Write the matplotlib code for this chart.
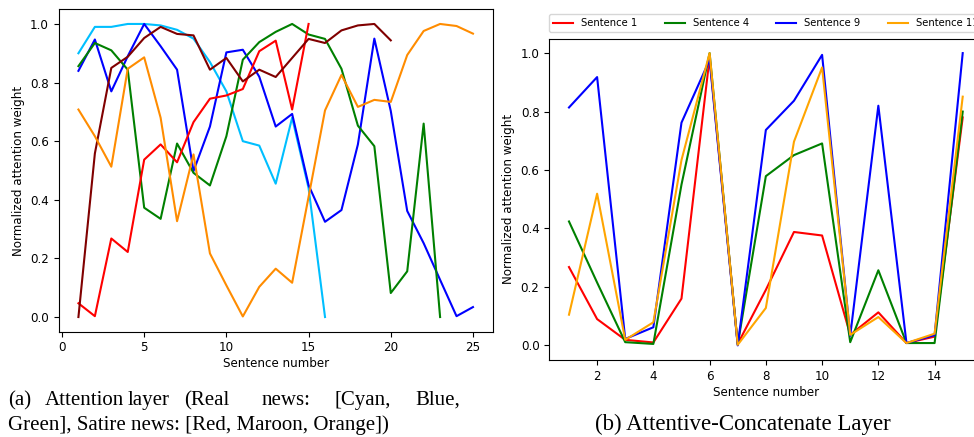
import matplotlib
matplotlib.use("Agg")
from matplotlib import pyplot as plt

# ---- (a) attention layer, one curve per article ----
cyan_y = [0.90, 0.99, 0.99, 1.0, 1.0, 0.995, 0.98, 0.95, 0.87, 0.77, 0.60, 0.585,
          0.455, 0.68, 0.44, 0.0]
blue_y = [0.84, 0.947, 0.77, 0.89, 1.0, 0.924, 0.844, 0.498, 0.65, 0.903, 0.912, 0.82,
          0.65, 0.693, 0.45, 0.325, 0.365, 0.589, 0.95, 0.703, 0.362, 0.252, 0.127,
          0.003, 0.034]
green_y = [0.856, 0.935, 0.91, 0.844, 0.373, 0.335, 0.592, 0.492, 0.449, 0.617, 0.878,
           0.938, 0.973, 1.0, 0.964, 0.949, 0.847, 0.653, 0.583, 0.082, 0.156, 0.66, 0.0]
red_y = [0.047, 0.003, 0.268, 0.222, 0.537, 0.589, 0.528, 0.665, 0.745, 0.756, 0.778,
         0.907, 0.943, 0.708, 1.0]
maroon_y = [0.0, 0.558, 0.85, 0.888, 0.952, 0.99, 0.966, 0.961, 0.844, 0.884, 0.804,
            0.844, 0.819, 0.884, 0.949, 0.935, 0.978, 0.995, 1.0, 0.944]
orange_y = [0.708, 0.617, 0.513, 0.847, 0.886, 0.68, 0.327, 0.555, 0.217, 0.108, 0.002,
            0.103, 0.165, 0.117, 0.41, 0.705, 0.826, 0.717, 0.741, 0.734, 0.894, 0.976,
            1.0, 0.993, 0.967]

# ---- (b) attentive-concatenate layer ----
sent_x = list(range(1, 16))
sent1 = [0.268, 0.09, 0.019, 0.01, 0.16, 0.985, 0.005, 0.19, 0.388, 0.376, 0.036,
         0.113, 0.008, 0.03, 0.78]
sent4 = [0.424, 0.215, 0.011, 0.005, 0.55, 1.0, 0.003, 0.579, 0.651, 0.691, 0.011,
         0.257, 0.008, 0.008, 0.80]
sent9 = [0.814, 0.918, 0.022, 0.062, 0.762, 0.977, 0.0, 0.737, 0.837, 0.994, 0.033,
         0.82, 0.008, 0.035, 1.0]
sent11 = [0.105, 0.519, 0.019, 0.079, 0.634, 1.0, 0.002, 0.128, 0.697, 0.951, 0.036,
          0.097, 0.008, 0.04, 0.851]

fig = plt.figure(figsize=(9.74, 4.37), dpi=100)
W, H = 974.0, 437.0

# left panel
ax1 = fig.add_axes([58.7 / W, 1 - 331.7 / H, 434.0 / W, 322.4 / H])
left_series = [(cyan_y, "deepskyblue"), (blue_y, "blue"), (green_y, "green"),
               (red_y, "red"), (maroon_y, "maroon"), (orange_y, "darkorange")]
for ys, c in left_series:
    ax1.plot(range(1, len(ys) + 1), ys, color=c, lw=1.5)
ax1.set_xlabel("Sentence number", fontsize=8.6, labelpad=2)
ax1.set_ylabel("Normalized attention weight", fontsize=8.6)
ax1.tick_params(labelsize=8.6)

# right panel (runs past the right edge, as in the original crop)
ax2 = fig.add_axes([549.3 / W, 1 - 360.0 / H, 433.1 / W, 321.5 / H])
ax2.plot(sent_x, sent1, color="red", lw=1.5, label="Sentence 1")
ax2.plot(sent_x, sent4, color="green", lw=1.5, label="Sentence 4")
ax2.plot(sent_x, sent9, color="blue", lw=1.5, label="Sentence 9")
ax2.plot(sent_x, sent11, color="orange", lw=1.5, label="Sentence 11")
ax2.set_xlabel("Sentence number", fontsize=8.6, labelpad=2)
ax2.set_ylabel("Normalized attention weight", fontsize=8.6)
ax2.tick_params(labelsize=8.6)
ax2.legend(bbox_to_anchor=(0, 1.02, 1, 0.102), loc="lower left", ncol=4,
           mode="expand", borderaxespad=0, fontsize=7.2)

# captions
serif = "Liberation Serif"
words_a = ["(a)", "Attention", "layer", "(Real", "news:", "[Cyan,", "Blue,"]
word_x = [8, 45, 128, 184, 262, 334, 415]
for w, x in zip(words_a, word_x):
    fig.text(x / W, 1 - 405 / H, w, family=serif, fontsize=15, va="baseline")
fig.text(8 / W, 1 - 430 / H, "Green], Satire news: [Red, Maroon, Orange])",
         family=serif, fontsize=15, va="baseline")
fig.text(743 / W, 1 - 430 / H, "(b) Attentive-Concatenate Layer",
         family=serif, fontsize=16.5, va="baseline", ha="center")

fig.savefig("out.png", dpi=100)
